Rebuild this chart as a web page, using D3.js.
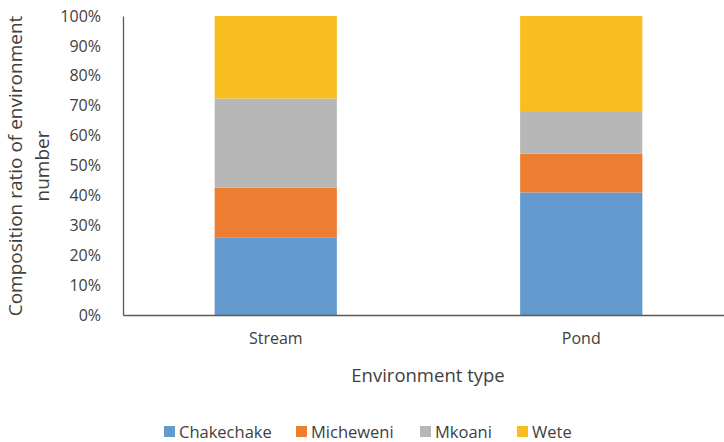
<!DOCTYPE html>
<html>
<head>
<meta charset="utf-8">
<script src="https://cdn.jsdelivr.net/npm/d3@7"></script>
<style>
  body { margin: 0; background: #fff; }
  text { font-family: "Open Sans", "Liberation Sans", sans-serif; fill: #404040; }
</style>
</head>
<body>
<div id="chart"></div>
<script>
var categories = ['Stream', 'Pond'];
var seriesNames = ['Chakechake', 'Micheweni', 'Mkoani', 'Wete'];
var chakechake = [26.0, 41.0];
var micheweni = [16.6, 13.0];
var mkoani = [29.8, 14.2];
var wete = [27.6, 31.8];
var yTicks = [0, 10, 20, 30, 40, 50, 60, 70, 80, 90, 100];
var colors = ['#6399cc', '#ed7d31', '#b7b7b7', '#f9bd20'];

var w = 724, h = 442;
var margin = { left: 123, top: 16, right: -10, bottom: 127 };

var svg = d3.select('#chart').append('svg')
  .attr('width', w)
  .attr('height', h);

var x = d3.scaleBand()
  .domain(categories)
  .range([margin.left, w - margin.right])
  .paddingInner(0.6)
  .paddingOuter(0.3);

var y = d3.scaleLinear()
  .domain([0, 100])
  .range([h - margin.bottom, margin.top]);

// build rows for stacking
var rows = categories.map(function(c, i) {
  var total = chakechake[i] + micheweni[i] + mkoani[i] + wete[i];
  return {
    cat: c,
    Chakechake: chakechake[i] / total * 100,
    Micheweni: micheweni[i] / total * 100,
    Mkoani: mkoani[i] / total * 100,
    Wete: wete[i] / total * 100
  };
});
var stacked = d3.stack().keys(seriesNames)(rows);

// y tick labels (no tick marks)
var yAxis = svg.append('g')
  .attr('transform', 'translate(' + margin.left + ',0)')
  .call(d3.axisLeft(y).tickValues(yTicks).tickSize(0).tickPadding(22)
    .tickFormat(function(d) { return d + '%'; }));
yAxis.attr('font-family', null).attr('font-size', null);
yAxis.select('.domain').attr('stroke', '#595959').attr('stroke-width', 1.3);
yAxis.selectAll('text').style('font-size', '16px').attr('fill', '#404040');

// bars
svg.selectAll('g.series')
  .data(stacked)
  .enter().append('g')
  .attr('class', 'series')
  .attr('fill', function(d, i) { return colors[i]; })
  .selectAll('rect')
  .data(function(d) { return d; })
  .enter().append('rect')
  .attr('x', function(d) { return x(d.data.cat); })
  .attr('width', x.bandwidth())
  .attr('y', function(d) { return y(d[1]); })
  .attr('height', function(d) { return y(d[0]) - y(d[1]); });

// x axis
var xAxis = svg.append('g')
  .attr('transform', 'translate(0,' + y(0) + ')')
  .call(d3.axisBottom(x).tickSize(0).tickPadding(18));
xAxis.attr('font-family', null).attr('font-size', null);
xAxis.select('.domain').attr('stroke', '#595959').attr('stroke-width', 1.3);
xAxis.selectAll('text').style('font-size', '16px').attr('fill', '#404040');

// axis titles
svg.append('text')
  .attr('x', 428).attr('y', 382)
  .attr('text-anchor', 'middle')
  .style('font-size', '18.5px')
  .text('Environment type');

var yTitle = svg.append('text')
  .attr('transform', 'translate(22,' + 166 + ') rotate(-90)')
  .attr('text-anchor', 'middle')
  .style('font-size', '19px');
yTitle.append('tspan').attr('x', 0).attr('dy', 0).text('Composition ratio of environment');
yTitle.append('tspan').attr('x', 0).attr('dy', 27).text('number');

// legend
var legendX = [164, 296, 420, 517];
var legend = svg.selectAll('g.legend')
  .data(seriesNames)
  .enter().append('g')
  .attr('class', 'legend')
  .attr('transform', function(d, i) { return 'translate(' + legendX[i] + ',426)'; });
legend.append('rect')
  .attr('width', 11).attr('height', 11)
  .attr('fill', function(d, i) { return colors[i]; });
legend.append('text')
  .attr('x', 15).attr('y', 11.5)
  .style('font-size', '16.5px')
  .text(function(d) { return d; });
</script>
</body>
</html>
